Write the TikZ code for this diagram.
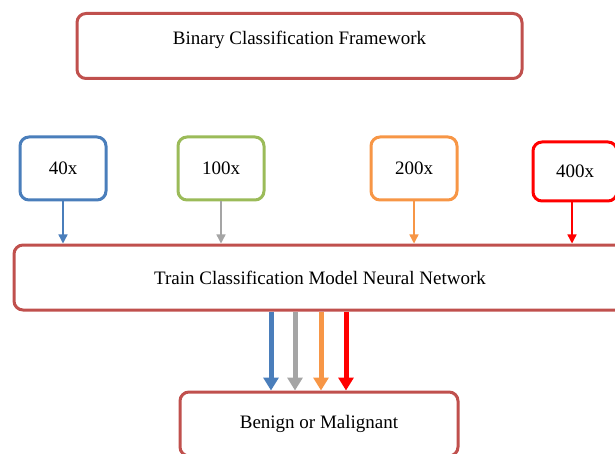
\documentclass[tikz,border=0pt]{standalone}
\usepackage{fontspec}
\setmainfont{Liberation Serif}
\usepackage{xcolor}
\usetikzlibrary{arrows.meta, positioning}
\definecolor{framered}{RGB}{192, 80, 77}
\definecolor{magblue}{RGB}{74, 126, 187}
\definecolor{maggreen}{RGB}{155, 187, 89}
\definecolor{magorange}{RGB}{247, 150, 70}
\definecolor{magred}{RGB}{255, 0, 0}
\definecolor{arrgray}{RGB}{165, 165, 165}

\begin{document}
\begin{tikzpicture}[x=1pt, y=-1pt, font=\fontsize{19}{23}\selectfont]
    \tikzstyle{box} = [rectangle, rounded corners=9pt, line width=3pt,
                       text centered, fill=white, inner sep=0pt]
    \tikzstyle{magbox} = [box, minimum width=86pt, minimum height=63pt]
    \tikzstyle{thin} = [-{Triangle[length=9pt, width=9pt]}, line width=1.4pt]
    \tikzstyle{fat} = [-{Triangle[length=13pt, width=15pt]}, line width=5pt]

    \useasboundingbox (0,0) rectangle (615,454);
    \clip (0,0) rectangle (615,454);

    %% Title
    \node[box, draw=framered, minimum width=445pt, minimum height=65pt,
          text height=13pt, text depth=15pt] at (299.5,46) (title)
      {Binary Classification Framework};

    %% Magnification levels
    \node[magbox, draw=magblue]   at (63,168.5)  (m40)  {40x};
    \node[magbox, draw=maggreen]  at (221,168.5) (m100) {100x};
    \node[magbox, draw=magorange] at (414,168.5) (m200) {200x};
    \node[magbox, draw=magred, minimum width=84pt, minimum height=59pt]
      at (575,171.5) (m400) {400x};

    %% Model and output
    \node[box, draw=framered, minimum width=612pt, minimum height=65pt]
      at (320,277.5) (train) {Train Classification Model Neural Network};
    \node[box, draw=framered, minimum width=278pt, minimum height=64pt]
      at (319,424) (out) {Benign or Malignant};

    %% ── Inputs: magnification → model ─────────────────────────────────────
    \draw[thin, magblue]   (m40.south)  -- (m40.south |- train.north);
    \draw[thin, arrgray]   (m100.south) -- (m100.south |- train.north);
    \draw[thin, magorange] (m200.south) -- (m200.south |- train.north);
    \draw[thin, magred]    ([xshift=-3pt]m400.south) -- ([xshift=-3pt]m400.south |- train.north);

    %% ── Model → result ────────────────────────────────────────────────────
    \foreach \xx/\col in {271/magblue, 295/arrgray, 321/magorange, 346/magred}
      \draw[fat, \col] (train.south -| \xx,0) -- (out.north -| \xx,0);
  \end{tikzpicture}
\end{document}
